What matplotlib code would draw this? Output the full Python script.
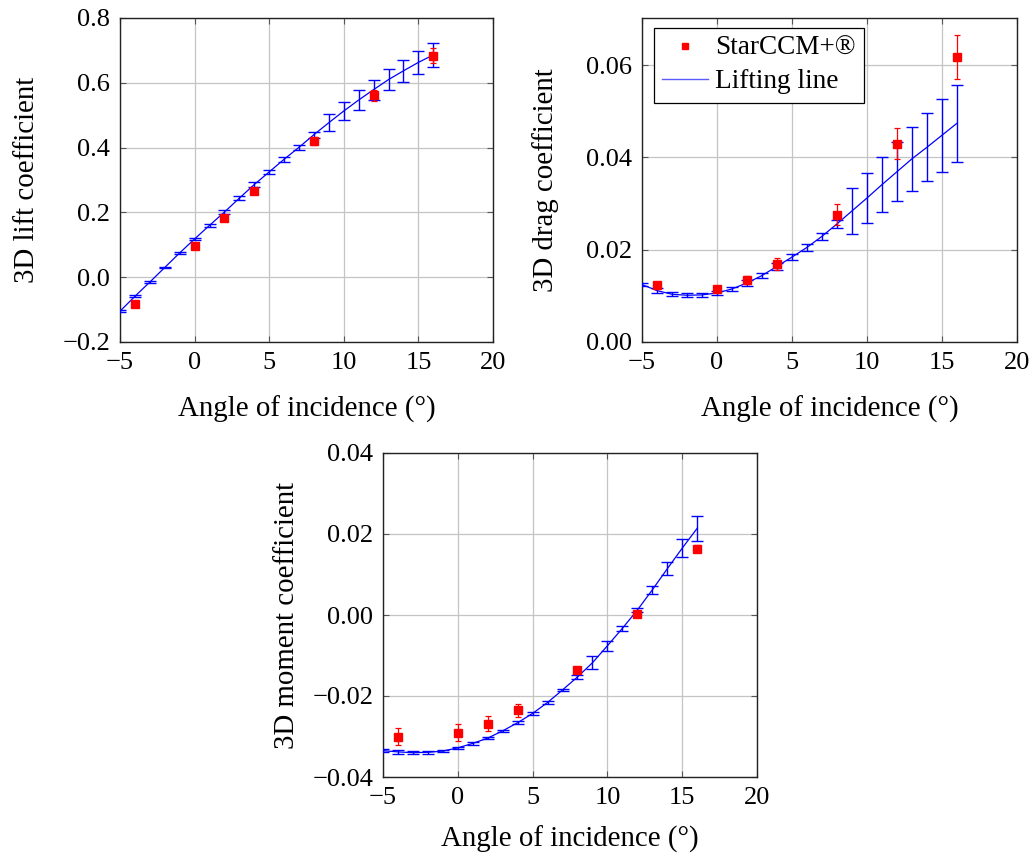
import numpy as np
import matplotlib
matplotlib.use("Agg")
import matplotlib.pyplot as plt
from matplotlib.lines import Line2D
from matplotlib.ticker import FuncFormatter

plt.rcParams['font.family'] = ['Liberation Serif', 'DejaVu Serif']
plt.rcParams['mathtext.fontset'] = 'stix'

# ---------------- data ----------------
alpha_ll = [-5, -4, -3, -2, -1, 0, 1, 2, 3, 4, 5, 6, 7, 8, 9, 10, 11, 12, 13, 14, 15, 16]
alpha_cfd = [-4, 0, 2, 4, 8, 12, 16]

cl_ll = [-0.105, -0.059, -0.015, 0.030, 0.075, 0.118, 0.160, 0.201, 0.244, 0.286, 0.325,
         0.364, 0.401, 0.440, 0.477, 0.513, 0.547, 0.579, 0.610, 0.637, 0.663, 0.686]
cl_ll_err = [0.003, 0.003, 0.003, 0.003, 0.003, 0.004, 0.004, 0.005, 0.006, 0.007, 0.007,
             0.007, 0.008, 0.009, 0.026, 0.027, 0.030, 0.031, 0.032, 0.034, 0.035, 0.037]
cl_cfd = [-0.083, 0.095, 0.182, 0.265, 0.420, 0.561, 0.684]
cl_cfd_err = [0.003, 0.004, 0.004, 0.005, 0.013, 0.018, 0.024]

cd_ll = [0.01244, 0.01114, 0.01034, 0.01013, 0.01020, 0.01063, 0.0115, 0.0128, 0.0144, 0.0164,
         0.0184, 0.0205, 0.0229, 0.0256, 0.0284, 0.0312, 0.0341, 0.0369, 0.0397, 0.0422, 0.0448, 0.0474]
cd_ll_err = [0.0004, 0.0005, 0.0004, 0.0004, 0.0004, 0.0005, 0.0005, 0.0006, 0.0006, 0.0007,
             0.0007, 0.0007, 0.0008, 0.0009, 0.0050, 0.0054, 0.0060, 0.0064, 0.0069, 0.0074, 0.0079, 0.0083]
cd_cfd = [0.0123, 0.0115, 0.0135, 0.0169, 0.0276, 0.0430, 0.0618]
cd_cfd_err = [0.0008, 0.0006, 0.0009, 0.0013, 0.0022, 0.0034, 0.0048]

cm_ll = [-0.0335, -0.0338, -0.0340, -0.0339, -0.0336, -0.0328, -0.0317, -0.0304, -0.0286, -0.0266,
         -0.0243, -0.0216, -0.0185, -0.0153, -0.0118, -0.0076, -0.0033, 0.0012, 0.0062, 0.0114, 0.0165, 0.0214]
cm_ll_err = [0.0003, 0.0004, 0.0003, 0.0003, 0.0003, 0.0003, 0.0003, 0.0003, 0.0003, 0.0004,
             0.0004, 0.0003, 0.0003, 0.0004, 0.0016, 0.0012, 0.0006, 0.0005, 0.0010, 0.0016, 0.0023, 0.0031]
cm_cfd = [-0.0300, -0.0291, -0.0268, -0.0235, -0.0136, 0.0002, 0.0164]
cm_cfd_err = [0.0021, 0.0021, 0.0019, 0.0016, 0.0005, 0.0003, 0.0009]

xticks = [-5, 0, 5, 10, 15, 20]
cl_ticks = [-0.2, 0.0, 0.2, 0.4, 0.6, 0.8]
cd_ticks = [0.00, 0.02, 0.04, 0.06]
cm_ticks = [-0.04, -0.02, 0.00, 0.02, 0.04]

xlabel = "Angle of incidence (°)"
labels = ["3D lift coefficient", "3D drag coefficient", "3D moment coefficient"]
legend_labels = ["StarCCM+®", "Lifting line"]

# ---------------- figure ----------------
W, H = 1032, 856
fig = plt.figure(figsize=(W / 100, H / 100), dpi=100)

def px_axes(x0, y0, x1, y1):
    return fig.add_axes([x0 / W, 1 - y1 / H, (x1 - x0) / W, (y1 - y0) / H])

ax1 = px_axes(120, 18, 493, 342)
ax2 = px_axes(642, 18, 1017, 342)
ax3 = px_axes(383, 453, 757, 777)

TICK_FS = 19
LABEL_FS = 20.8

def minus_fmt(nd):
    def f(v, pos):
        s = f"{v:.{nd}f}"
        if float(s) == 0:
            s = s.lstrip('-')
        return s.replace('-', '\u2212')
    return FuncFormatter(f)

def xfmt(v, pos):
    return f"{v:.0f}".replace('-', '\u2212')

def style(ax, ylim, yticks, nd, ylab, label_x, xpad):
    ax.set_xlim(-5, 20)
    ax.set_ylim(*ylim)
    ax.set_xticks(xticks)
    ax.set_yticks(yticks)
    ax.xaxis.set_major_formatter(FuncFormatter(xfmt))
    ax.yaxis.set_major_formatter(minus_fmt(nd))
    ax.grid(True, color='#c4c4c4', lw=0.9)
    ax.set_axisbelow(True)
    ax.tick_params(direction='in', length=4, width=0.8, color='#555555',
                   top=True, right=True, labelsize=TICK_FS, pad=7)
    for s in ax.spines.values():
        s.set_linewidth(1.0)
        s.set_color('#222222')
    ax.set_xlabel(xlabel, fontsize=LABEL_FS, labelpad=xpad)
    ax.set_ylabel(ylab, fontsize=LABEL_FS)
    ax.yaxis.set_label_coords(label_x, 0.5)

def draw(ax, ll, ll_err, cfd, cfd_err):
    ax.errorbar(alpha_ll, ll, yerr=ll_err, color='blue', lw=0.9, elinewidth=1.0,
                capsize=4.3, capthick=1.0, zorder=3)
    ax.errorbar(alpha_cfd, cfd, yerr=cfd_err, color='red', ls='none', marker='s',
                markersize=5.5, elinewidth=0.9, capsize=2.5, capthick=0.9, zorder=4)

draw(ax1, cl_ll, cl_ll_err, cl_cfd, cl_cfd_err)
draw(ax2, cd_ll, cd_ll_err, cd_cfd, cd_cfd_err)
draw(ax3, cm_ll, cm_ll_err, cm_cfd, cm_cfd_err)

style(ax1, (-0.2, 0.8), cl_ticks, 1, labels[0], -0.215, 16)
style(ax2, (0.0, 0.0702), cd_ticks, 2, labels[1], -0.222, 16)
style(ax3, (-0.04, 0.04), cm_ticks, 2, labels[2], -0.222, 12)

handles = [Line2D([], [], color='red', marker='s', ls='none', markersize=4.5),
           Line2D([], [], color='#5a5aff', lw=1.0)]
leg = ax2.legend(handles, legend_labels, loc='upper left',
                 bbox_to_anchor=(12 / 375, 1 - 10 / 324), borderaxespad=0,
                 fontsize=19.6, fancybox=False, framealpha=1, edgecolor='black',
                 handlelength=1.7, handletextpad=0.25, borderpad=0.3, labelspacing=0.3)
leg.get_frame().set_linewidth(0.9)

fig.savefig("out.png", dpi=100)
